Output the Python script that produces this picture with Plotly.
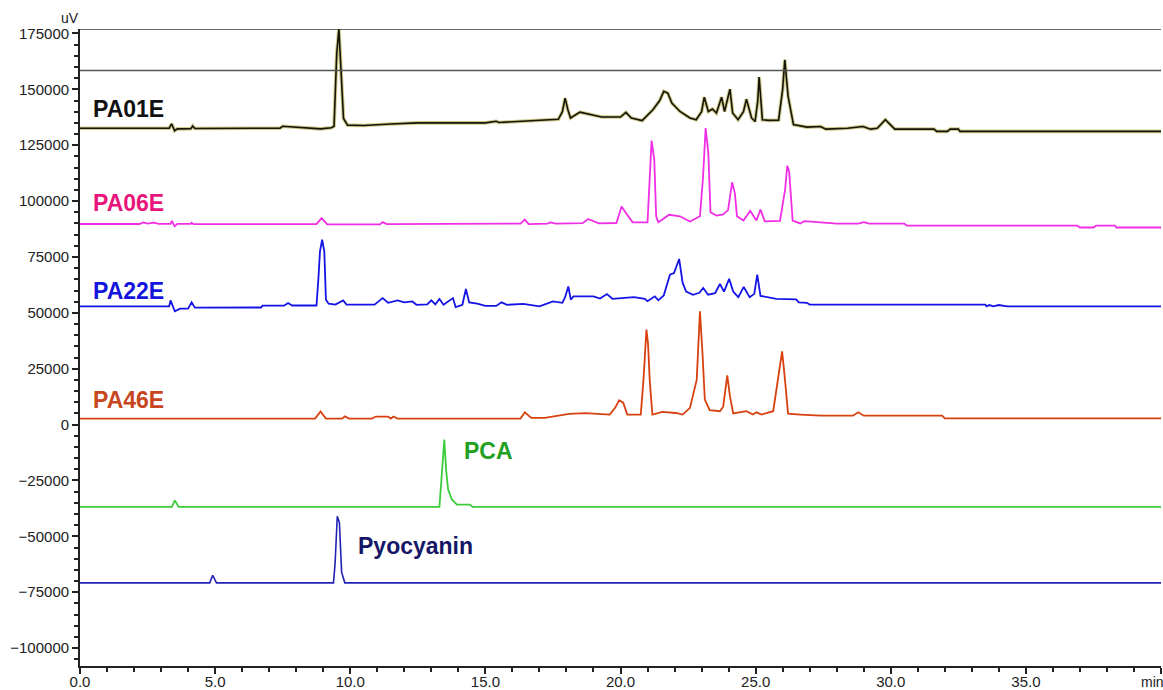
import plotly.graph_objects as go

# ---------------- data (retention time in min, signal in uV) ----------------
PA01E_t = [0, 3.3, 3.39, 3.5, 3.6, 4.1, 4.17, 4.25, 7.4, 7.5, 8.9, 9.3, 9.4, 9.5, 9.58, 9.65, 9.75, 9.9,
           10.5, 11.5, 12.5, 15.0, 15.4, 15.5, 16.5, 16.9, 17.7, 17.85, 17.95, 18.05, 18.15, 18.5, 18.9,
           19.3, 20.0, 20.2, 20.4, 20.8, 21.2, 21.45, 21.6, 21.75, 21.9, 22.2, 22.57, 22.8, 23.0, 23.1,
           23.25, 23.4, 23.55, 23.74, 23.85, 24.05, 24.15, 24.35, 24.55, 24.66, 24.85, 24.98, 25.08,
           25.13, 25.25, 25.5, 25.85, 26.0, 26.08, 26.2, 26.4, 26.9, 27.4, 27.6, 28.4, 28.97, 29.25,
           29.5, 29.8, 30.15, 31.6, 31.7, 32.1, 32.2, 32.5, 32.56, 40.0]
PA01E_v = [132600, 132600, 134600, 131500, 132300, 132400, 133600, 132500, 132600, 133500, 132300,
           132800, 133500, 166000, 177000, 160000, 137000, 134000, 133800, 134500, 135000, 135000,
           135700, 135200, 135800, 136200, 136600, 140000, 146100, 141000, 137200, 139800, 138600,
           137600, 137600, 139700, 137200, 136000, 140900, 145000, 149100, 148300, 143900, 140100,
           137200, 136400, 140000, 146500, 140100, 141200, 139400, 146500, 140100, 150100, 139400,
           136400, 140000, 145600, 137200, 135600, 145000, 155500, 136400, 136100, 136200, 150000,
           163200, 147000, 134200, 133100, 133400, 132200, 132600, 133400, 132200, 132600, 136400,
           132200, 132200, 131200, 131200, 132200, 132200, 131200, 131200]

PA06E_t = [0, 2.2, 2.35, 2.5, 2.75, 2.9, 3.35, 3.4, 3.5, 3.6, 4.1, 4.13, 4.2, 8.75, 8.94, 9.15, 11.1,
           11.2, 11.35, 16.3, 16.46, 16.6, 17.3, 17.4, 17.6, 18.6, 18.8, 19.2, 19.85, 20.04, 20.2,
           20.45, 21.0, 21.15, 21.25, 21.32, 21.4, 21.8, 22.2, 22.57, 22.94, 23.05, 23.15, 23.25,
           23.33, 23.55, 23.8, 23.98, 24.13, 24.23, 24.31, 24.55, 24.8, 25.03, 25.18, 25.34, 25.9,
           26.09, 26.17, 26.24, 26.37, 26.65, 26.8, 27.2, 28.0, 28.8, 29.0, 29.2, 30.5, 30.6, 36.9,
           37.0, 37.5, 37.6, 38.3, 38.35, 40.0]
PA06E_v = [89750, 89750, 90500, 89900, 90400, 89800, 89800, 91200, 88700, 89800, 89800, 90300, 89700,
           89700, 92400, 89600, 89600, 90600, 89700, 89900, 91700, 89700, 89900, 90500, 89900, 90100,
           92000, 90000, 90200, 97600, 94700, 90500, 90500, 127100, 118500, 93200, 90500, 93900,
           93200, 90900, 93200, 110000, 132700, 121500, 95000, 93500, 94000, 96000, 108400, 103600,
           93200, 91300, 95600, 91300, 96200, 90900, 91100, 105000, 115800, 113300, 91300, 90000,
           91000, 90600, 89900, 89900, 90600, 89900, 89900, 89000, 89000, 88200, 88200, 89000, 89000,
           88200, 88200]

PA22E_t = [0, 3.3, 3.35, 3.45, 3.51, 3.7, 4.0, 4.13, 4.25, 6.7, 6.75, 7.55, 7.7, 7.85, 8.75, 8.82,
           8.88, 8.96, 9.04, 9.1, 9.2, 9.45, 9.74, 9.86, 10.9, 11.2, 11.4, 11.75, 12.0, 12.3, 12.45,
           12.85, 13.0, 13.15, 13.3, 13.45, 13.8, 13.9, 14.15, 14.28, 14.4, 14.7, 15.0, 15.4, 15.6,
           15.8, 16.4, 17.0, 17.5, 17.85, 17.95, 18.07, 18.16, 18.26, 19.0, 19.24, 19.5, 19.7, 20.5,
           20.9, 21.0, 21.27, 21.4, 21.6, 21.83, 21.98, 22.17, 22.3, 22.43, 22.68, 22.92, 23.06,
           23.24, 23.5, 23.68, 23.83, 24.02, 24.17, 24.36, 24.56, 24.78, 24.95, 25.06, 25.18, 25.4,
           25.77, 26.5, 26.6, 26.9, 27.0, 33.5, 33.55, 33.65, 33.8, 34.0, 34.3, 40.0]
PA22E_v = [52900, 52900, 55600, 52000, 50700, 51900, 51900, 54700, 52300, 52400, 53200, 53200, 54400,
           53300, 53300, 65000, 77500, 82700, 77500, 55900, 54100, 53700, 55600, 53700, 53700, 56600,
           54500, 55600, 54700, 55100, 53600, 53800, 55600, 53800, 56200, 53600, 56600, 52600, 53600,
           60700, 54700, 54100, 53100, 53100, 54700, 53600, 54000, 52900, 55100, 54500, 57000, 61800,
           55900, 57400, 57400, 56400, 58400, 56300, 57000, 56300, 55200, 57400, 55600, 57800, 67100,
           67800, 74100, 63400, 59500, 58100, 59000, 61100, 58100, 58800, 62900, 59500, 65200, 59500,
           57000, 61600, 57000, 58500, 67100, 57600, 57000, 56300, 56000, 54700, 54500, 53700, 53700,
           52900, 53500, 52900, 53500, 52900, 52900]

PA46E_t = [0, 8.7, 8.9, 9.1, 9.7, 9.8, 9.95, 10.8, 10.95, 11.4, 11.5, 11.6, 11.75, 16.3, 16.46, 16.7,
           17.2, 18.1, 18.7, 19.6, 19.8, 19.95, 20.1, 20.25, 20.75, 20.85, 20.96, 21.02, 21.08, 21.18,
           21.55, 22.05, 22.3, 22.57, 22.82, 22.94, 23.04, 23.12, 23.3, 23.68, 23.8, 23.95, 24.05,
           24.17, 24.66, 24.9, 25.03, 25.22, 25.65, 25.83, 25.98, 26.08, 26.2, 26.65, 27.4, 28.6,
           28.8, 29.0, 31.9, 32.0, 40.0]
PA46E_v = [2700, 2700, 5900, 2700, 2700, 3700, 2700, 2700, 3600, 3600, 2700, 3600, 2700, 2700, 5500,
           3000, 3000, 4800, 5100, 4500, 7500, 10900, 9800, 4500, 4500, 20000, 42500, 36000, 20100,
           4500, 5700, 5200, 4500, 7500, 20000, 50700, 30600, 11200, 6500, 6000, 8000, 22000, 12700,
           5000, 6000, 4500, 5500, 4500, 6000, 20000, 32800, 20900, 4900, 4500, 4000, 4000, 5500,
           4000, 4000, 2800, 2800]

PCA_t = [0, 3.4, 3.51, 3.65, 13.3, 13.38, 13.48, 13.55, 13.62, 13.76, 13.95, 14.43, 14.53, 40.0]
PCA_v = [-36800, -36800, -33900, -36800, -36800, -23000, -6700, -20700, -29000, -33500, -35800,
         -35800, -36800, -36800]

PYO_t = [0, 4.8, 4.91, 5.05, 9.38, 9.44, 9.52, 9.6, 9.68, 9.8, 40.0]
PYO_v = [-70800, -70800, -67400, -70800, -70800, -61900, -41000, -44000, -66000, -70800, -70800]

# label text, anchor time, anchor signal
label_names = ["PA01E", "PA06E", "PA22E", "PA46E", "PCA", "Pyocyanin"]
label_t = [0.42, 0.42, 0.42, 0.42, 14.15, 10.22]
label_v = [141400, 99200, 59700, 10800, -11800, -54400]

x_range = [0, 40.0]
y_range = [-108000, 177000]
ref_lines = [177000, 158400]

# ---------------- figure ----------------
fig = go.Figure()

# olive halo under the black trace (as in the original rendering)
fig.add_trace(go.Scatter(x=PA01E_t, y=PA01E_v, mode="lines",
                         line=dict(color="#cfc98a", width=3.6, shape="linear"),
                         hoverinfo="skip", showlegend=False))
series = [
    (PA01E_t, PA01E_v, "#141408", 1.6),
    (PA06E_t, PA06E_v, "#f02ee6", 1.8),
    (PA22E_t, PA22E_v, "#1414e6", 1.8),
    (PA46E_t, PA46E_v, "#d8400e", 1.8),
    (PCA_t, PCA_v, "#3ccc3c", 1.8),
    (PYO_t, PYO_v, "#2222b4", 1.6),
]
for (tt, vv, col, w), name in zip(series, label_names):
    fig.add_trace(go.Scatter(x=tt, y=vv, mode="lines", name=name,
                             line=dict(color=col, width=w), showlegend=False))

label_colors = ["#111111", "#e8157a", "#1414dc", "#c8461e", "#22a022", "#161666"]
for name, tx, vy, col in zip(label_names, label_t, label_v, label_colors):
    fig.add_annotation(x=tx, y=vy, xref="x", yref="y", text=f"<b>{name}</b>",
                       showarrow=False, xanchor="left", yanchor="middle",
                       font=dict(family="Liberation Sans, Arial, sans-serif", size=23, color=col))

for yv, col in zip(ref_lines, ["#3a3a30", "#555555"]):
    fig.add_shape(type="line", xref="paper", x0=0, x1=1, yref="y", y0=yv, y1=yv,
                  line=dict(color=col, width=1.6))

fig.add_annotation(xref="paper", yref="paper", x=0, y=1, text="uV", showarrow=False,
                   xanchor="right", yanchor="bottom", yshift=1, xshift=1,
                   font=dict(family="Liberation Sans, Arial, sans-serif", size=14, color="#222"))
fig.add_annotation(xref="paper", yref="paper", x=1, y=0, text="min", showarrow=False,
                   xanchor="left", yanchor="top", xshift=-22, yshift=-6,
                   font=dict(family="Liberation Sans, Arial, sans-serif", size=14, color="#222"))

axis_font = dict(family="Liberation Sans, Arial, sans-serif", size=15, color="#222")
fig.update_layout(
    width=1163, height=690,
    margin=dict(l=80, r=2, t=29, b=24),
    paper_bgcolor="white", plot_bgcolor="white",
    showlegend=False,
    xaxis=dict(range=x_range, tick0=0, dtick=5, tickformat=".1f", ticks="outside",
               ticklen=6, tickwidth=1.5, tickcolor="#222", showline=True, linecolor="#222",
               linewidth=1.8, showgrid=False, zeroline=False, tickfont=axis_font,
               ticklabelstandoff=-5, automargin=False,
               minor=dict(dtick=1, ticks="outside", ticklen=4, tickcolor="#222", showgrid=False)),
    yaxis=dict(range=y_range, tick0=0, dtick=25000, tickformat="d", ticks="outside",
               ticklen=6, tickwidth=1.5, tickcolor="#222", showline=True, linecolor="#222",
               linewidth=1.8, showgrid=False, zeroline=False, tickfont=axis_font,
               automargin=False,
               minor=dict(dtick=5000, ticks="outside", ticklen=4, tickcolor="#222", showgrid=False)),
)

# remove the browser's default page margin so the 1163x690 figure fills the window exactly
fig.write_html("out.html", config={"displayModeBar": False},
               post_script="document.body.style.margin='0';document.body.style.overflow='hidden';")
